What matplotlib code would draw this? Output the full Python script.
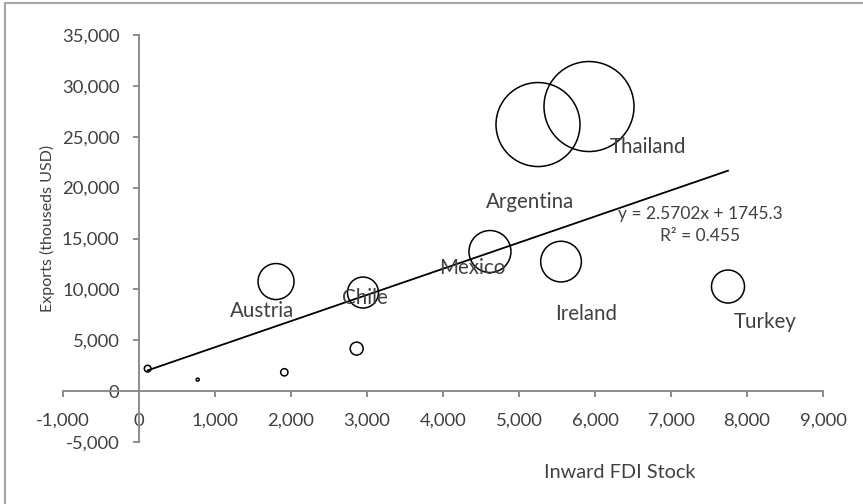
import matplotlib
matplotlib.use("Agg")
import matplotlib.pyplot as plt
import numpy as np

# ---- data ----
countries = ["", "", "", "", "Austria", "Chile", "Mexico", "Ireland", "Turkey", "Argentina", "Thailand"]
fdi_stock = [114, 772, 1912, 2864, 1803, 2947, 4618, 5553, 7750, 5250, 5921]
exports = [2210, 1130, 1850, 4180, 10770, 9690, 13720, 12730, 10280, 26200, 27970]
bubble_size = [45, 9, 53, 169, 1296, 961, 1764, 1656, 1089, 7056, 8100]
slope = 2.5702
intercept = 1745.3
r_squared = 0.455
x_ticks = list(range(-1000, 9001, 1000))
y_ticks = list(range(-5000, 35001, 5000))

# label offsets (pixels) relative to bubble centre
label_offsets = {
    "Austria": (-14, -29), "Chile": (2, -5), "Mexico": (-18, -16),
    "Argentina": (-8, -77), "Thailand": (59, -40), "Ireland": (25, -52),
    "Turkey": (37, -35),
}

FONT = ["Lato", "DejaVu Sans"]
plt.rcParams["font.family"] = FONT
TXT = "#404040"
AX = "#8c8c8c"
W, H = 863, 504
fig = plt.figure(figsize=(W / 100, H / 100), dpi=100)
ax = fig.add_axes([63 / W, 1 - 442 / H, (823 - 63) / W, (442 - 35) / H])

px2pt = 0.72
sizes = [(px2pt ** 2) * b for b in bubble_size]
ax.scatter(fdi_stock, exports, s=sizes, facecolors="none", edgecolors="black", linewidths=1.1, zorder=3)

xs = np.array([min(fdi_stock), max(fdi_stock)])
ax.plot(xs, slope * xs + intercept, color="black", lw=1.3, zorder=4)

for name, x, y in zip(countries, fdi_stock, exports):
    if name:
        dx, dy = label_offsets[name]
        ax.annotate(name, (x, y), xytext=(dx * px2pt, dy * px2pt), textcoords="offset points",
                    ha="center", va="center", fontsize=14.8, color=TXT, zorder=5)

ax.text(700 / W, 1 - 214 / H, f"y = {slope}x + {intercept}", transform=fig.transFigure,
        ha="center", va="center", fontsize=12.5, color=TXT)
ax.text(700 / W, 1 - 236 / H, f"R² = {r_squared}", transform=fig.transFigure,
        ha="center", va="center", fontsize=12.5, color=TXT)

ax.set_xlim(-1000, 9000)
ax.set_ylim(-5000, 35000)
ax.set_xticks(x_ticks)
ax.set_yticks(y_ticks)
ax.set_xticklabels([f"{t:,}" for t in x_ticks])
ax.set_yticklabels([f"{t:,}" for t in y_ticks])
for s in ["top", "right"]:
    ax.spines[s].set_visible(False)
ax.spines["left"].set_position(("data", 0))
ax.spines["bottom"].set_position(("data", 0))
for s in ["left", "bottom"]:
    ax.spines[s].set_color(AX)
    ax.spines[s].set_linewidth(1.4)
ax.tick_params(axis="x", direction="out", length=4, width=1.4, color=AX, labelsize=13.3, labelcolor=TXT, pad=11.5)
ax.tick_params(axis="y", direction="out", length=4, width=1.4, color=AX, labelsize=13.3, labelcolor=TXT, pad=10)

fig.text(620 / W, 1 - 473 / H, "Inward FDI Stock", ha="center", va="center", fontsize=14.3, color=TXT)
fig.text(47 / W, 1 - 228 / H, "Exports (thouseds USD)", ha="center", va="center", rotation=90,
         fontsize=11.5, color=TXT)

# frame (top & left visible)
fig.add_artist(plt.Line2D([5 / W, 5 / W], [0, 1 - 3 / H], transform=fig.transFigure, color="#a6a6a6", lw=1.5))
fig.add_artist(plt.Line2D([5 / W, 1], [1 - 3 / H, 1 - 3 / H], transform=fig.transFigure, color="#a6a6a6", lw=1.5))

fig.savefig("out.png", dpi=100)
